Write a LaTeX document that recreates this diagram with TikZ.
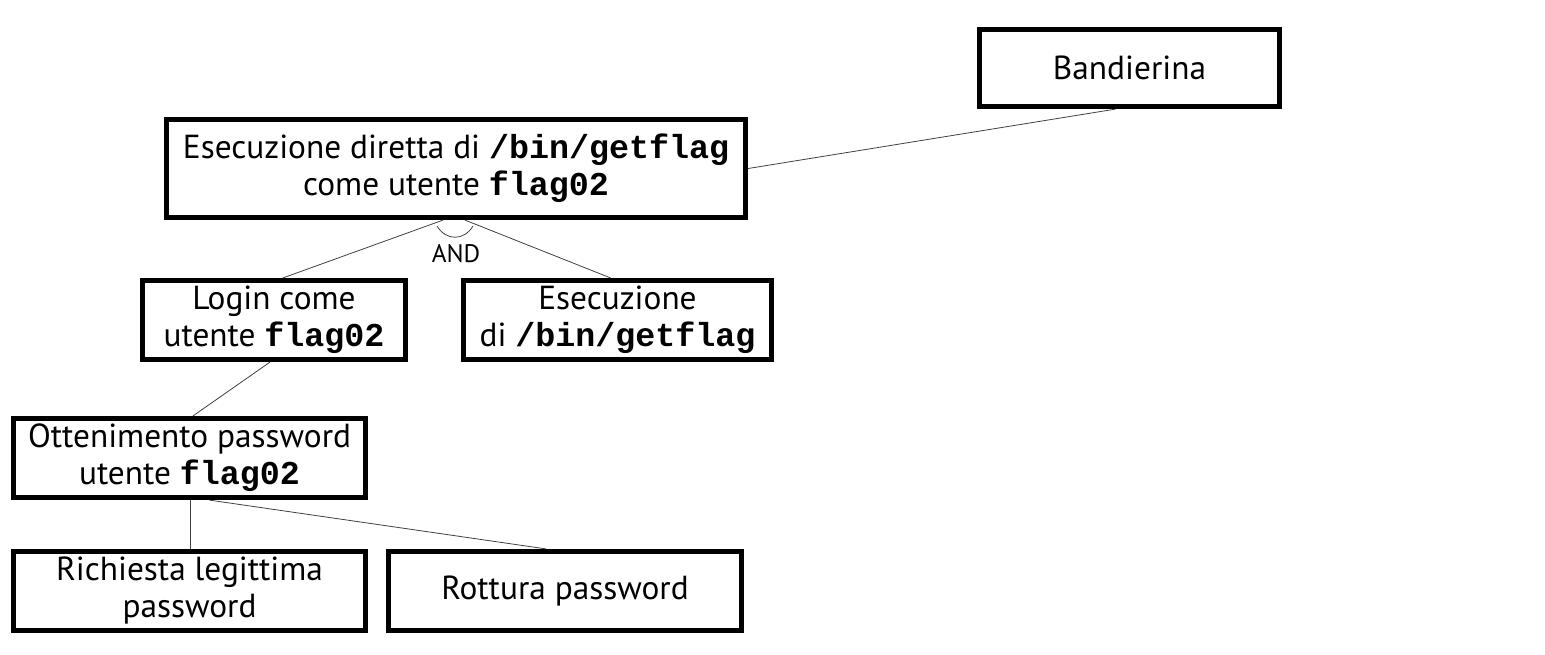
\documentclass[tikz,border=0pt]{standalone}
\usepackage{fontspec}
\setmainfont{PT Sans}
\setmonofont{Liberation Mono}
\usetikzlibrary{calc}
\begin{document}
\begin{tikzpicture}[x=0.75pt,y=-0.75pt,
  box/.style={draw=black,line width=3.9pt,inner sep=0pt,align=center,
    font=\fontsize{25}{27.75}\selectfont,minimum height=59.25pt},
  conn/.style={draw=black!75,line width=0.6pt}]
\useasboundingbox (0,0) rectangle (1545,654);
\node[box,minimum width=225pt,minimum height=57.75pt] (band) at (1129.5,68) {Bandierina};
\node[box,minimum width=434.25pt,minimum height=73.5pt] (top) at (456,168.5)
  {Esecuzione diretta di \texttt{\textbf{/bin/getflag}}\\come utente \texttt{\textbf{flag02}}};
\node[box,minimum width=197.25pt] (login) at (274,320) {Login come\\utente \texttt{\textbf{flag02}}};
\node[box,minimum width=231pt] (exe) at (617.5,320) {Esecuzione\\di \texttt{\textbf{/bin/getflag}}};
\node[box,minimum width=264pt] (otten) at (189.5,458) {Ottenimento password\\utente \texttt{\textbf{flag02}}};
\node[box,minimum width=264pt] (rich) at (189.5,591) {Richiesta legittima\\password};
\node[box,minimum width=264.75pt] (rott) at (565,591) {Rottura password};
\node[font=\fontsize{19}{22}\selectfont,inner sep=0pt] (and) at (456,254) {AND};
\draw[conn] (top.east) -- ($(band.south)+(-14,0)$);
\draw[conn] ($(top.south)+(-13,0)$) -- ($(login.north)+(9,0)$);
\draw[conn] ($(top.south)+(9,0)$) -- ($(exe.north)+(-7,0)$);
\draw[conn] (437,226) .. controls (446,241) and (464,241) .. (473,226);
\draw[conn] ($(login.south)+(-4,0)$) -- ($(otten.north)+(3.5,0)$);
\draw[conn] ($(otten.south)+(0.5,0)$) -- ($(rich.north)+(0.5,0)$);
\draw[conn] ($(otten.south)+(20,0)$) -- ($(rott.north)+(-19,0)$);
\end{tikzpicture}
\end{document}
